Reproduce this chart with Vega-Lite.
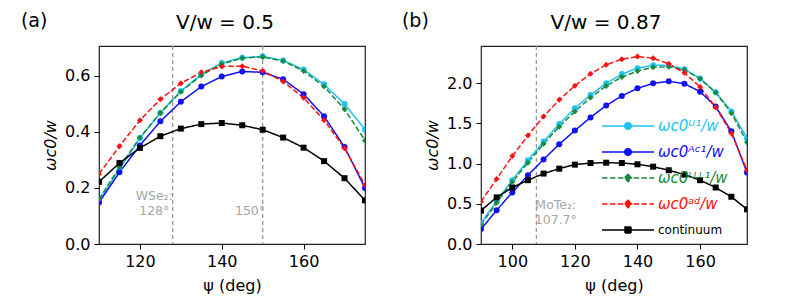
{
  "$schema": "https://vega.github.io/schema/vega-lite/v6.json",
  "padding": {"left": 20, "top": 11, "right": 5, "bottom": 2},
  "config": {
    "font": "DejaVu Sans",
    "view": {"stroke": "#222", "strokeWidth": 1.2},
    "axis": {"domain": false, "grid": false, "tickColor": "#000", "tickSize": 5, "labelFontSize": 16, "labelColor": "#000", "titleFontSize": 16, "titleColor": "#000", "titleFontWeight": "normal", "labelPadding": 4},
    "title": {"font": "DejaVu Sans", "fontWeight": "normal", "color": "#000"}
  },
  "datasets": {
    "a": [
      {"psi":110,"s":"U1","v":0.154},{"psi":115,"s":"U1","v":0.268},{"psi":120,"s":"U1","v":0.378},{"psi":125,"s":"U1","v":0.469},{"psi":130,"s":"U1","v":0.546},{"psi":135,"s":"U1","v":0.606},{"psi":140,"s":"U1","v":0.646},{"psi":145,"s":"U1","v":0.665},{"psi":150,"s":"U1","v":0.670},{"psi":155,"s":"U1","v":0.655},{"psi":160,"s":"U1","v":0.623},{"psi":165,"s":"U1","v":0.570},{"psi":170,"s":"U1","v":0.500},{"psi":175,"s":"U1","v":0.409},
      {"psi":110,"s":"AC1","v":0.148},{"psi":115,"s":"AC1","v":0.256},{"psi":120,"s":"AC1","v":0.352},{"psi":125,"s":"AC1","v":0.438},{"psi":130,"s":"AC1","v":0.508},{"psi":135,"s":"AC1","v":0.562},{"psi":140,"s":"AC1","v":0.598},{"psi":145,"s":"AC1","v":0.616},{"psi":150,"s":"AC1","v":0.613},{"psi":155,"s":"AC1","v":0.588},{"psi":160,"s":"AC1","v":0.535},{"psi":165,"s":"AC1","v":0.456},{"psi":170,"s":"AC1","v":0.346},{"psi":175,"s":"AC1","v":0.200},
      {"psi":110,"s":"LLL1","v":0.160},{"psi":115,"s":"LLL1","v":0.274},{"psi":120,"s":"LLL1","v":0.380},{"psi":125,"s":"LLL1","v":0.468},{"psi":130,"s":"LLL1","v":0.544},{"psi":135,"s":"LLL1","v":0.602},{"psi":140,"s":"LLL1","v":0.643},{"psi":145,"s":"LLL1","v":0.664},{"psi":150,"s":"LLL1","v":0.668},{"psi":155,"s":"LLL1","v":0.653},{"psi":160,"s":"LLL1","v":0.618},{"psi":165,"s":"LLL1","v":0.562},{"psi":170,"s":"LLL1","v":0.481},{"psi":175,"s":"LLL1","v":0.370},
      {"psi":110,"s":"ad","v":0.250},{"psi":115,"s":"ad","v":0.349},{"psi":120,"s":"ad","v":0.442},{"psi":125,"s":"ad","v":0.517},{"psi":130,"s":"ad","v":0.574},{"psi":135,"s":"ad","v":0.613},{"psi":140,"s":"ad","v":0.634},{"psi":145,"s":"ad","v":0.635},{"psi":150,"s":"ad","v":0.618},{"psi":155,"s":"ad","v":0.580},{"psi":160,"s":"ad","v":0.522},{"psi":165,"s":"ad","v":0.442},{"psi":170,"s":"ad","v":0.342},{"psi":175,"s":"ad","v":0.211},
      {"psi":110,"s":"continuum","v":0.222},{"psi":115,"s":"continuum","v":0.289},{"psi":120,"s":"continuum","v":0.343},{"psi":125,"s":"continuum","v":0.385},{"psi":130,"s":"continuum","v":0.412},{"psi":135,"s":"continuum","v":0.428},{"psi":140,"s":"continuum","v":0.432},{"psi":145,"s":"continuum","v":0.424},{"psi":150,"s":"continuum","v":0.408},{"psi":155,"s":"continuum","v":0.380},{"psi":160,"s":"continuum","v":0.344},{"psi":165,"s":"continuum","v":0.296},{"psi":170,"s":"continuum","v":0.235},{"psi":175,"s":"continuum","v":0.156}
    ],
    "b": [
      {"psi":90,"s":"U1","v":0.259},{"psi":95,"s":"U1","v":0.534},{"psi":100,"s":"U1","v":0.793},{"psi":105,"s":"U1","v":1.039},{"psi":110,"s":"U1","v":1.273},{"psi":115,"s":"U1","v":1.491},{"psi":120,"s":"U1","v":1.688},{"psi":125,"s":"U1","v":1.852},{"psi":130,"s":"U1","v":1.996},{"psi":135,"s":"U1","v":2.111},{"psi":140,"s":"U1","v":2.185},{"psi":145,"s":"U1","v":2.222},{"psi":150,"s":"U1","v":2.218},{"psi":155,"s":"U1","v":2.172},{"psi":160,"s":"U1","v":2.057},{"psi":165,"s":"U1","v":1.885},{"psi":170,"s":"U1","v":1.647},{"psi":175,"s":"U1","v":1.318},
      {"psi":90,"s":"AC1","v":0.185},{"psi":95,"s":"AC1","v":0.419},{"psi":100,"s":"AC1","v":0.641},{"psi":105,"s":"AC1","v":0.854},{"psi":110,"s":"AC1","v":1.051},{"psi":115,"s":"AC1","v":1.240},{"psi":120,"s":"AC1","v":1.409},{"psi":125,"s":"AC1","v":1.573},{"psi":130,"s":"AC1","v":1.721},{"psi":135,"s":"AC1","v":1.840},{"psi":140,"s":"AC1","v":1.934},{"psi":145,"s":"AC1","v":1.996},{"psi":150,"s":"AC1","v":2.021},{"psi":155,"s":"AC1","v":1.992},{"psi":160,"s":"AC1","v":1.893},{"psi":165,"s":"AC1","v":1.708},{"psi":170,"s":"AC1","v":1.400},{"psi":175,"s":"AC1","v":0.887},
      {"psi":90,"s":"LLL1","v":0.238},{"psi":95,"s":"LLL1","v":0.513},{"psi":100,"s":"LLL1","v":0.772},{"psi":105,"s":"LLL1","v":1.010},{"psi":110,"s":"LLL1","v":1.244},{"psi":115,"s":"LLL1","v":1.458},{"psi":120,"s":"LLL1","v":1.647},{"psi":125,"s":"LLL1","v":1.819},{"psi":130,"s":"LLL1","v":1.963},{"psi":135,"s":"LLL1","v":2.074},{"psi":140,"s":"LLL1","v":2.148},{"psi":145,"s":"LLL1","v":2.197},{"psi":150,"s":"LLL1","v":2.201},{"psi":155,"s":"LLL1","v":2.164},{"psi":160,"s":"LLL1","v":2.053},{"psi":165,"s":"LLL1","v":1.881},{"psi":170,"s":"LLL1","v":1.626},{"psi":175,"s":"LLL1","v":1.265},
      {"psi":90,"s":"ad","v":0.526},{"psi":95,"s":"ad","v":0.809},{"psi":100,"s":"ad","v":1.092},{"psi":105,"s":"ad","v":1.347},{"psi":110,"s":"ad","v":1.585},{"psi":115,"s":"ad","v":1.791},{"psi":120,"s":"ad","v":1.967},{"psi":125,"s":"ad","v":2.115},{"psi":130,"s":"ad","v":2.226},{"psi":135,"s":"ad","v":2.296},{"psi":140,"s":"ad","v":2.329},{"psi":145,"s":"ad","v":2.308},{"psi":150,"s":"ad","v":2.238},{"psi":155,"s":"ad","v":2.127},{"psi":160,"s":"ad","v":1.951},{"psi":165,"s":"ad","v":1.700},{"psi":170,"s":"ad","v":1.376},{"psi":175,"s":"ad","v":0.916},
      {"psi":90,"s":"continuum","v":0.415},{"psi":95,"s":"continuum","v":0.579},{"psi":100,"s":"continuum","v":0.702},{"psi":105,"s":"continuum","v":0.793},{"psi":110,"s":"continuum","v":0.875},{"psi":115,"s":"continuum","v":0.936},{"psi":120,"s":"continuum","v":0.986},{"psi":125,"s":"continuum","v":1.006},{"psi":130,"s":"continuum","v":1.010},{"psi":135,"s":"continuum","v":1.006},{"psi":140,"s":"continuum","v":0.990},{"psi":145,"s":"continuum","v":0.961},{"psi":150,"s":"continuum","v":0.916},{"psi":155,"s":"continuum","v":0.862},{"psi":160,"s":"continuum","v":0.793},{"psi":165,"s":"continuum","v":0.702},{"psi":170,"s":"continuum","v":0.587},{"psi":175,"s":"continuum","v":0.431}
    ],
    "ra": [{"x":128},{"x":150}],
    "ta": [{"x":123.5,"y":0.173,"t":"WSe₂:"},{"x":123.5,"y":0.117,"t":"128°"},{"x":146.9,"y":0.117,"t":"150°"}],
    "rb": [{"x":107.7}],
    "tb": [{"x":113.9,"y":0.48,"t":"MoTe₂:"},{"x":113.9,"y":0.296,"t":"107.7°"}]
  },
  "resolve": {"legend": {"color": "independent", "strokeDash": "independent"}},
  "spacing": 35,
  "hconcat": [
    {
      "title": {"text": "(a)", "anchor": "start", "frame": "bounds", "fontSize": 19, "dx": -21, "dy": 22},
      "vconcat": [
        {
          "width": 266, "height": 198,
          "title": {"text": "V/w = 0.5", "fontSize": 20, "frame": "group", "anchor": "middle", "offset": 12, "dx": -7},
          "layer": [
            {"data": {"name": "ra"}, "mark": {"type": "rule", "color": "#999", "strokeDash": [4, 3], "strokeWidth": 1.3},
             "encoding": {"x": {"field": "x", "type": "quantitative"}}},
            {"data": {"name": "ta"}, "mark": {"type": "text", "color": "#a6a6a6", "fontSize": 12.5, "align": "center", "baseline": "middle"},
             "encoding": {"x": {"field": "x", "type": "quantitative"}, "y": {"field": "y", "type": "quantitative"}, "text": {"field": "t"}}},
            {"data": {"name": "a"}, "mark": {"type": "line", "clip": true},
             "encoding": {
               "x": {"field": "psi", "type": "quantitative", "scale": {"domain": [110, 175], "nice": false, "zero": false}, "axis": {"values": [120, 140, 160], "title": "ψ (deg)", "titlePadding": 8}},
               "y": {"field": "v", "type": "quantitative", "scale": {"domain": [0, 0.707], "nice": false}, "axis": {"values": [0, 0.2, 0.4, 0.6], "format": ".1f", "title": "ωc0/w", "titleFontStyle": "italic", "titlePadding": 6}},
               "color": {"field": "s", "type": "nominal", "scale": {"domain": ["U1", "AC1", "LLL1", "ad", "continuum"], "range": ["#1ec3f2", "#1010f5", "#178a3f", "#ff1010", "#000000"]}, "legend": null},
               "strokeDash": {"field": "s", "type": "nominal", "scale": {"domain": ["U1", "AC1", "LLL1", "ad", "continuum"], "range": [[1, 0], [1, 0], [5.5, 2.4], [5.5, 2.4], [1, 0]]}, "legend": null},
               "strokeWidth": {"field": "s", "type": "nominal", "scale": {"domain": ["U1", "AC1", "LLL1", "ad", "continuum"], "range": [1.5, 1.5, 1.5, 1.5, 2.2]}, "legend": null}
             }},
            {"data": {"name": "a"}, "mark": {"type": "point", "filled": true, "opacity": 1, "clip": true},
             "encoding": {
               "x": {"field": "psi", "type": "quantitative"},
               "y": {"field": "v", "type": "quantitative"},
               "color": {"field": "s", "type": "nominal", "legend": null},
               "shape": {"field": "s", "type": "nominal", "scale": {"domain": ["U1", "AC1", "LLL1", "ad", "continuum"], "range": ["circle", "circle", "diamond", "diamond", "square"]}, "legend": null},
               "size": {"field": "s", "type": "nominal", "scale": {"domain": ["U1", "AC1", "LLL1", "ad", "continuum"], "range": [36, 36, 30, 30, 36]}, "legend": null}
             }}
          ]
        }
      ]
    },
    {
      "title": {"text": "(b)", "anchor": "start", "frame": "bounds", "fontSize": 19, "dx": -22, "dy": 22},
      "vconcat": [
        {
          "width": 266, "height": 198,
          "title": {"text": "V/w = 0.87", "fontSize": 20, "frame": "group", "anchor": "middle", "offset": 12, "dx": -8},
          "layer": [
            {"data": {"name": "rb"}, "mark": {"type": "rule", "color": "#999", "strokeDash": [4, 3], "strokeWidth": 1.3},
             "encoding": {"x": {"field": "x", "type": "quantitative"}}},
            {"data": {"name": "tb"}, "mark": {"type": "text", "color": "#a6a6a6", "fontSize": 12.5, "align": "center", "baseline": "middle"},
             "encoding": {"x": {"field": "x", "type": "quantitative"}, "y": {"field": "y", "type": "quantitative"}, "text": {"field": "t"}}},
            {"data": {"name": "b"}, "mark": {"type": "line", "clip": true},
             "encoding": {
               "x": {"field": "psi", "type": "quantitative", "scale": {"domain": [90, 175], "nice": false, "zero": false}, "axis": {"values": [100, 120, 140, 160], "title": "ψ (deg)", "titlePadding": 8}},
               "y": {"field": "v", "type": "quantitative", "scale": {"domain": [0, 2.46], "nice": false}, "axis": {"values": [0, 0.5, 1, 1.5, 2], "format": ".1f", "title": "ωc0/w", "titleFontStyle": "italic", "titlePadding": 6}},
               "color": {"field": "s", "type": "nominal", "scale": {"domain": ["U1", "AC1", "LLL1", "ad", "continuum"], "range": ["#1ec3f2", "#1010f5", "#178a3f", "#ff1010", "#000000"]},
                 "legend": {
                   "title": null, "orient": "none", "legendX": 136, "legendY": 69, "padding": 0,
                   "symbolSize": 400, "symbolStrokeWidth": 1.5, "rowPadding": 7, "labelOffset": 19, "labelFontSize": 15,
                   "labelExpr": "datum.value == 'U1' ? 'ωc0ᵁ¹/w' : datum.value == 'AC1' ? 'ωc0ᴬᶜ¹/w' : datum.value == 'LLL1' ? 'ωc0ᴸᴸᴸ¹/w' : datum.value == 'ad' ? 'ωc0ᵃᵈ/w' : 'continuum'",
                   "encode": {
                     "labels": {"update": {
                       "fill": {"scale": "color", "field": "value"},
                       "fontSize": {"signal": "datum.value == 'continuum' ? 12 : 15"},
                       "fontStyle": {"signal": "datum.value == 'continuum' ? 'normal' : 'italic'"}
                     }},
                     "symbols": {"update": {
                       "shape": {"signal": "datum.value == 'continuum' ? 'M-2.6,0L2.6,0M-0.3,-0.3L0.3,-0.3L0.3,0.3L-0.3,0.3Z' : (datum.value == 'LLL1' || datum.value == 'ad') ? 'M-2.6,0L2.6,0M0,-0.36L0.36,0L0,0.36L-0.36,0Z' : 'M-2.6,0L2.6,0M-0.33,0A0.33,0.33,0,1,0,0.33,0A0.33,0.33,0,1,0,-0.33,0Z'"},
                       "fill": {"scale": "color", "field": "value"},
                       "fillOpacity": {"value": 1}
                     }}
                   }
                 }},
               "strokeDash": {"field": "s", "type": "nominal", "scale": {"domain": ["U1", "AC1", "LLL1", "ad", "continuum"], "range": [[1, 0], [1, 0], [5.5, 2.4], [5.5, 2.4], [1, 0]]}, "legend": {"title": null}},
               "strokeWidth": {"field": "s", "type": "nominal", "scale": {"domain": ["U1", "AC1", "LLL1", "ad", "continuum"], "range": [1.5, 1.5, 1.5, 1.5, 2.2]}, "legend": null}
             }},
            {"data": {"name": "b"}, "mark": {"type": "point", "filled": true, "opacity": 1, "clip": true},
             "encoding": {
               "x": {"field": "psi", "type": "quantitative"},
               "y": {"field": "v", "type": "quantitative"},
               "color": {"field": "s", "type": "nominal", "legend": null},
               "shape": {"field": "s", "type": "nominal", "scale": {"domain": ["U1", "AC1", "LLL1", "ad", "continuum"], "range": ["circle", "circle", "diamond", "diamond", "square"]}, "legend": null},
               "size": {"field": "s", "type": "nominal", "scale": {"domain": ["U1", "AC1", "LLL1", "ad", "continuum"], "range": [36, 36, 30, 30, 36]}, "legend": null}
             }}
          ]
        }
      ]
    }
  ]
}
